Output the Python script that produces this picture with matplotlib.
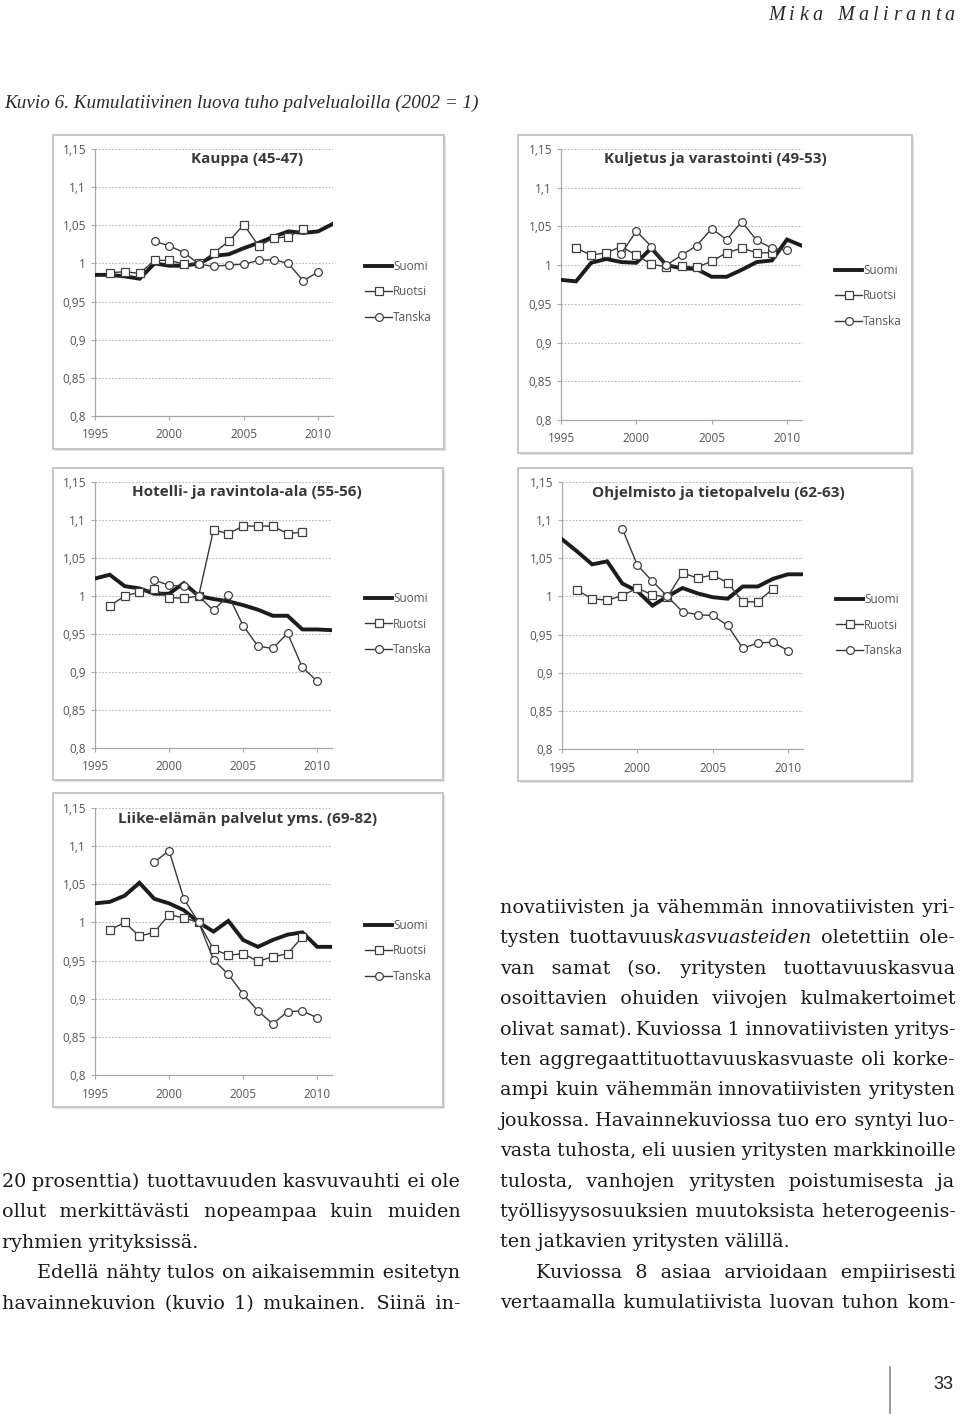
import matplotlib
matplotlib.use('Agg')
import matplotlib.pyplot as plt
from matplotlib.patches import Rectangle
from matplotlib.font_manager import FontProperties

W, H = 960, 1417

# --- data, 2002 = 1 ---
years = list(range(1995, 2012))      # Suomi
years_r = list(range(1996, 2010))    # Ruotsi
years_t = list(range(1999, 2011))    # Tanska

kauppa_suomi = [0.985, 0.985, 0.983, 0.980, 1.000, 0.997, 0.997, 1.000, 1.010, 1.012,
                1.020, 1.027, 1.035, 1.042, 1.040, 1.042, 1.052]
kauppa_ruotsi = [0.988, 0.989, 0.987, 1.004, 1.004, 0.999, 1.000, 1.014, 1.029, 1.051,
                 1.023, 1.033, 1.035, 1.045]
kauppa_tanska = [1.029, 1.023, 1.014, 0.999, 0.996, 0.998, 0.999, 1.004, 1.005, 1.000,
                 0.977, 0.989]

kuljetus_suomi = [0.981, 0.979, 1.003, 1.008, 1.004, 1.003, 1.022, 1.000, 0.996, 0.995,
                  0.985, 0.985, 0.994, 1.004, 1.006, 1.033, 1.025]
kuljetus_ruotsi = [1.022, 1.013, 1.016, 1.024, 1.013, 1.001, 0.998, 0.999, 0.997, 1.005,
                   1.016, 1.022, 1.016, 1.016]
kuljetus_tanska = [1.015, 1.044, 1.024, 1.000, 1.013, 1.025, 1.047, 1.033, 1.056, 1.032,
                   1.022, 1.019]

hotelli_suomi = [1.023, 1.028, 1.013, 1.010, 1.003, 1.003, 1.017, 1.000, 0.996, 0.993,
                 0.988, 0.982, 0.974, 0.974, 0.956, 0.956, 0.955]
hotelli_ruotsi = [0.987, 1.000, 1.005, 1.009, 0.998, 0.997, 1.000, 1.087, 1.082, 1.092,
                  1.092, 1.092, 1.082, 1.084]
hotelli_tanska = [1.021, 1.014, 1.013, 1.000, 0.981, 1.001, 0.961, 0.934, 0.931, 0.951,
                  0.906, 0.888]

ohjelmisto_suomi = [1.075, 1.059, 1.042, 1.046, 1.017, 1.007, 0.988, 1.000, 1.011, 1.004,
                    0.999, 0.997, 1.013, 1.013, 1.023, 1.029, 1.029]
ohjelmisto_ruotsi = [1.008, 0.997, 0.995, 1.001, 1.011, 1.002, 0.999, 1.031, 1.024, 1.028,
                     1.018, 0.993, 0.993, 1.010]
ohjelmisto_tanska = [1.089, 1.041, 1.020, 1.000, 0.980, 0.976, 0.975, 0.962, 0.932, 0.939,
                     0.940, 0.929]

liike_suomi = [1.025, 1.027, 1.035, 1.052, 1.031, 1.025, 1.016, 1.000, 0.988, 1.002,
               0.977, 0.968, 0.977, 0.984, 0.987, 0.968, 0.968]
liike_ruotsi = [0.990, 1.000, 0.982, 0.987, 1.010, 1.006, 1.000, 0.965, 0.957, 0.959,
                0.949, 0.955, 0.959, 0.981]
liike_tanska = [1.079, 1.094, 1.031, 1.000, 0.951, 0.932, 0.906, 0.884, 0.867, 0.883,
                0.884, 0.875]

titles = ['Kauppa (45-47)', 'Kuljetus ja varastointi (49-53)', 'Hotelli- ja ravintola-ala (55-56)',
          'Ohjelmisto ja tietopalvelu (62-63)', 'Liike-elämän palvelut yms. (69-82)']
series_names = ['Suomi', 'Ruotsi', 'Tanska']
y_ticks = [0.8, 0.85, 0.9, 0.95, 1.0, 1.05, 1.1, 1.15]
y_labels = ['0,8', '0,85', '0,9', '0,95', '1', '1,05', '1,1', '1,15']
x_ticks = [1995, 2000, 2005, 2010]

panel_data = [
    (kauppa_suomi, kauppa_ruotsi, kauppa_tanska),
    (kuljetus_suomi, kuljetus_ruotsi, kuljetus_tanska),
    (hotelli_suomi, hotelli_ruotsi, hotelli_tanska),
    (ohjelmisto_suomi, ohjelmisto_ruotsi, ohjelmisto_tanska),
    (liike_suomi, liike_ruotsi, liike_tanska),
]

# (text, indented, justified); {...} = italic
left_lines = [
    ("20 prosenttia) tuottavuuden kasvuvauhti ei ole", 0, True),
    ("ollut merkittävästi nopeampaa kuin muiden", 0, True),
    ("ryhmien yrityksissä.", 0, False),
    ("Edellä nähty tulos on aikaisemmin esitetyn", 1, True),
    ("havainnekuvion (kuvio 1) mukainen. Siinä in-", 0, True),
]
right_lines = [
    ("novatiivisten ja vähemmän innovatiivisten yri-", 0, True),
    ("tysten tuottavuus{kasvuasteiden} oletettiin ole-", 0, True),
    ("van samat (so. yritysten tuottavuuskasvua", 0, True),
    ("osoittavien ohuiden viivojen kulmakertoimet", 0, True),
    ("olivat samat). Kuviossa 1 innovatiivisten yritys-", 0, True),
    ("ten aggregaattituottavuuskasvuaste oli korke-", 0, True),
    ("ampi kuin vähemmän innovatiivisten yritysten", 0, True),
    ("joukossa. Havainnekuviossa tuo ero syntyi luo-", 0, True),
    ("vasta tuhosta, eli uusien yritysten markkinoille", 0, True),
    ("tulosta, vanhojen yritysten poistumisesta ja", 0, True),
    ("työllisyysosuuksien muutoksista heterogeenis-", 0, True),
    ("ten jatkavien yritysten välillä.", 0, False),
    ("Kuviossa 8 asiaa arvioidaan empiirisesti", 1, True),
    ("vertaamalla kumulatiivista luovan tuhon kom-", 0, True),
]

# --- layout in page pixels ---
panels = [
    dict(box=(53, 135, 444, 449), ax=(95, 149, 333, 416), title=(247, 158), leg=(365, 292)),
    dict(box=(518, 135, 912, 453), ax=(561, 149, 802, 420), title=(715, 158), leg=(835, 296)),
    dict(box=(53, 468, 443, 780), ax=(95, 482, 332, 748), title=(247, 491), leg=(365, 624)),
    dict(box=(518, 468, 912, 781), ax=(562, 482, 803, 749), title=(718, 492), leg=(836, 625)),
    dict(box=(53, 793, 443, 1107), ax=(95, 808, 332, 1075), title=(248, 818), leg=(365, 951)),
]

fig = plt.figure(figsize=(W / 100, H / 100), dpi=100)
fig.patch.set_facecolor('white')


def fx(x):
    return x / W


def fy(y):
    return 1 - y / H


for p, (su, ru, ta), title in zip(panels, panel_data, titles):
    bx0, by0, bx1, by1 = p['box']
    # light shadow + frame round the chart
    fig.add_artist(Rectangle((fx(bx0 + 2), fy(by1 + 2)), (bx1 - bx0) / W, (by1 - by0) / H,
                             transform=fig.transFigure, facecolor='#e2e2e2', edgecolor='none',
                             zorder=0))
    fig.add_artist(Rectangle((fx(bx0), fy(by1)), (bx1 - bx0) / W, (by1 - by0) / H,
                             transform=fig.transFigure, facecolor='white', edgecolor='#c2c2c2',
                             linewidth=1.3, zorder=0))

    x0, yt, x1, yb = p['ax']
    ax = fig.add_axes([fx(x0), fy(yb), (x1 - x0) / W, (yb - yt) / H])
    ax.set_facecolor('none')
    ax.set_xlim(1995, 2011)
    ax.set_ylim(0.8, 1.15)
    ax.set_yticks(y_ticks)
    ax.set_yticklabels(y_labels)
    ax.set_xticks(x_ticks)
    ax.yaxis.grid(True, linestyle=(0, (1.5, 1.5)), color='#b8b8b8', linewidth=0.8)
    ax.set_axisbelow(True)
    for s in ['top', 'right']:
        ax.spines[s].set_visible(False)
    for s in ['left', 'bottom']:
        ax.spines[s].set_color('#a8a8a8')
        ax.spines[s].set_linewidth(0.9)
    ax.tick_params(axis='both', colors='#a8a8a8', labelcolor='#555555', labelsize=8.5,
                   length=3, width=0.8)
    ax.tick_params(axis='x', pad=6)
    for lab in ax.get_xticklabels() + ax.get_yticklabels():
        lab.set_family('Open Sans')

    l1, = ax.plot(years, su, color='#1c1c1c', linewidth=2.8, solid_joinstyle='miter',
                  label=series_names[0], zorder=3)
    l2, = ax.plot(years_r, ru, color='#383838', linewidth=1.0, marker='s', markersize=6,
                  markerfacecolor='white', markeredgecolor='#404040', markeredgewidth=0.9,
                  label=series_names[1], zorder=4)
    l3, = ax.plot(years_t, ta, color='#383838', linewidth=1.0, marker='o', markersize=5.6,
                  markerfacecolor='white', markeredgecolor='#404040', markeredgewidth=0.9,
                  label=series_names[2], zorder=4)

    lx, ly = p['leg']
    leg = ax.legend(handles=[l1, l2, l3], loc='center left',
                    bbox_to_anchor=((lx - x0) / (x1 - x0), (yb - ly) / (yb - yt)),
                    frameon=False, handlelength=2.3, handletextpad=0.1, labelspacing=1.05,
                    borderpad=0, borderaxespad=0, prop={'family': 'Open Sans', 'size': 8.5})
    for t in leg.get_texts():
        t.set_color('#555555')

    tx, ty = p['title']
    fig.text(fx(tx), fy(ty + 1), title, ha='center', va='center', family='Open Sans',
             fontweight='bold', fontsize=11, color='#383838')

# --- page text ---
renderer = fig.canvas.get_renderer()
FP = {False: FontProperties(family='DejaVu Serif', size=13.8),
      True: FontProperties(family='DejaVu Serif', style='italic', size=13.8)}
ink = '#1a1a1a'
HAIR = '\u200a'


def text_w(s, prop):
    return renderer.get_text_width_height_descent(s, prop, ismath=False)[0]


def adv(s, prop):
    return text_w('|' + s + '|', prop) - text_w('||', prop)


hair_w = (text_w('a' + HAIR * 20 + 'a', FP[False]) - text_w('aa', FP[False])) / 20


def parse_word(w):
    segs, buf, ital = [], '', False
    for ch in w:
        if ch in '{}':
            if buf:
                segs.append((buf, ital))
            buf = ''
            ital = ch == '{'
        else:
            buf += ch
    if buf:
        segs.append((buf, ital))
    return segs


def draw_line(line, x0, x1, base, justify):
    words = [parse_word(w) for w in line.split()]
    wsum = [sum(adv(t, FP[it]) for t, it in w) for w in words]
    n = len(words)
    if justify and n > 1:
        gap = max((x1 - x0 - sum(wsum)) / (n - 1), 2 * hair_w)
        seps, prev = [], 0
        for k in range(1, n):
            tot = round(k * gap / hair_w)
            seps.append(HAIR * max(tot - prev, 1))
            prev = tot
    else:
        seps = [' '] * (n - 1)
    runs = []
    for i, w in enumerate(words):
        for t, it in w:
            if runs and runs[-1][1] == it:
                runs[-1][0] += t
            else:
                runs.append([t, it])
        if i < n - 1:
            runs[-1][0] += seps[i]
    x = x0
    for t, it in runs:
        fig.text(fx(x), fy(base), t, fontproperties=FP[it], ha='left', va='baseline', color=ink)
        x += adv(t, FP[it])


step = 30.4
for i, (line, ind, just) in enumerate(left_lines):
    draw_line(line, 2 + ind * 35, 460, 1187 + i * step, just)
for i, (line, ind, just) in enumerate(right_lines):
    draw_line(line, 500 + ind * 36, 955, 913 + i * step, just)

# running head with wide letter spacing
head = 'Mika Maliranta'
head_p = FontProperties(family='Liberation Serif', style='italic', size=14.5)
cw = [text_w(c, head_p) if c != ' ' else text_w('n', head_p) * 0.5 for c in head]
track = (955 - 768 - sum(cw)) / (len(head) - 1)
x = 768
for c, w in zip(head, cw):
    if c != ' ':
        fig.text(fx(x), fy(20), c, fontproperties=head_p, ha='left', va='baseline', color='#2a2a2a')
    x += w + track

fig.text(fx(4), fy(108), 'Kuvio 6. Kumulatiivinen luova tuho palvelualoilla (2002 = 1)',
         fontproperties=FontProperties(family='Liberation Serif', style='italic', size=13.8),
         ha='left', va='baseline', color='#2a2a2a')

# page number
fig.add_artist(plt.Line2D([fx(890), fx(890)], [fy(1367), fy(1413)], transform=fig.transFigure,
                          color='#888888', linewidth=1.2))
fig.text(fx(943), fy(1389), '33', family='Liberation Sans', fontsize=13, ha='center',
         va='baseline', color='#222222')

fig.savefig('out.png', dpi=100)
